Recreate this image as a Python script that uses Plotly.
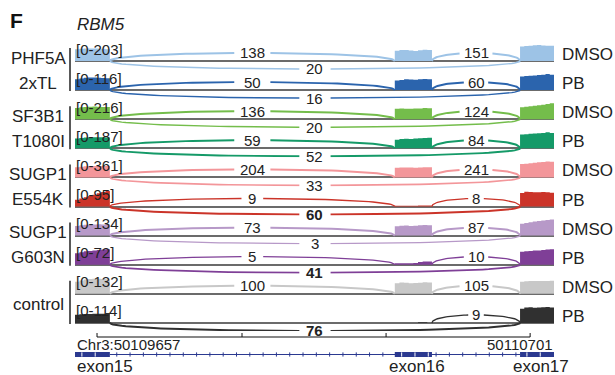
import numpy as np
import plotly.graph_objects as go

# ---------------- data ----------------
gene = "RBM5"
chrom = "Chr3"
region = (50109657, 50110701)
exon_names = ["exon15", "exon16", "exon17"]
exons = [(50109657, 50109733), (50110354, 50110435), (50110627, 50110701)]
axis_ticks = [50109705, 50110021, 50110335, 50110649]

treatments = ["DMSO", "PB", "DMSO", "PB", "DMSO", "PB", "DMSO", "PB", "DMSO", "PB"]
groups = [["PHF5A", "2xTL"], ["SF3B1", "T1080I"], ["SUGP1", "E554K"], ["SUGP1", "G603N"], ["control"]]
group_rows = [(0, 1), (2, 3), (4, 5), (6, 7), (8, 9)]
colors = ["#9dc3e6", "#2b64ad", "#74bd4b", "#159a68", "#f3969a",
          "#cb3429", "#b799c8", "#7f3f97", "#c8c8c8", "#303030"]
scale_max = [203, 116, 216, 187, 361, 95, 134, 72, 132, 114]

# junction read counts (None = junction not shown)
junc_15_16 = [138, 50, 136, 59, 204, 9, 73, 5, 100, None]
junc_16_17 = [151, 60, 124, 84, 241, 8, 87, 10, 105, 9]
junc_15_17 = [20, 16, 20, 52, 33, 60, 3, 41, None, 76]

# exon read coverage, 8 bins per exon
cov_exon15 = [
    [150, 155, 158, 160, 160, 158, 155, 150],
    [78, 85, 90, 92, 92, 90, 88, 86],
    [150, 160, 165, 168, 170, 168, 166, 165],
    [115, 120, 125, 128, 130, 130, 128, 126],
    [230, 240, 250, 255, 258, 260, 258, 255],
    [40, 48, 55, 62, 70, 78, 86, 92],
    [80, 86, 90, 92, 92, 95, 94, 92],
    [52, 56, 60, 62, 64, 66, 68, 70],
    [100, 110, 118, 122, 125, 124, 122, 120],
    [58, 62, 64, 64, 65, 66, 66, 70],
]
cov_exon16 = [
    [130, 138, 140, 132, 128, 135, 142, 140],
    [70, 74, 78, 76, 75, 78, 80, 78],
    [140, 146, 142, 140, 144, 146, 150, 148],
    [100, 108, 112, 110, 115, 118, 120, 122],
    [215, 222, 225, 222, 220, 225, 230, 228],
    [4, 5, 5, 5, 5, 6, 6, 6],
    [78, 82, 84, 80, 82, 86, 88, 86],
    [6, 6, 6, 6, 8, 12, 14, 14],
    [88, 94, 92, 88, 90, 92, 95, 94],
    [0, 0, 0, 0, 0, 4, 4, 0],
]
cov_exon17 = [
    [185, 190, 195, 200, 203, 198, 195, 192],
    [98, 102, 104, 106, 110, 112, 116, 112],
    [160, 168, 175, 180, 188, 195, 205, 216],
    [160, 165, 170, 172, 175, 180, 187, 180],
    [300, 310, 320, 330, 340, 350, 361, 355],
    [80, 88, 86, 84, 85, 86, 84, 82],
    [100, 106, 112, 118, 122, 126, 130, 134],
    [58, 60, 62, 64, 64, 66, 68, 70],
    [100, 104, 106, 106, 105, 106, 106, 108],
    [100, 110, 112, 108, 110, 112, 114, 110],
]

# ---------------- layout constants (pixels) ----------------
W, H = 615, 375
X0, X1 = 75, 554            # horizontal extent of the tracks
BASE0, ROW = 61, 29.1       # first baseline and track pitch
COV_PX = 16                 # pixel height of the track maximum
ABOVE, BELOW = 20, 9        # track extent around its baseline
ARC_PX = 8                  # height of the junction arcs
AXIS_Y, GENE_Y = 337, 354.5
FONT = "Liberation Sans, Arial, sans-serif"
TXT = "#222222"

bp_per_px = (region[1] - region[0]) / (X1 - X0)


def py(px):
    return 1 - px / H


def px_x(px):
    return px / W


fig = go.Figure()
layout = dict(
    width=W, height=H, margin=dict(l=0, r=0, t=0, b=0),
    plot_bgcolor="white", paper_bgcolor="white", showlegend=False,
    xaxis=dict(domain=[X0 / W, X1 / W], range=list(region), visible=False, fixedrange=True),
)
annotations = []
shapes = []

t = np.linspace(0, 1, 60)


def arc(x1, x2, peak):
    # cubic Bezier with control points above both ends
    xs = x1 + (x2 - x1) * (3 * t ** 2 - 2 * t ** 3)
    ys = 3 * t * (1 - t) * (peak / 0.75)
    return xs, ys


for i in range(10):
    yb = BASE0 + i * ROW
    M = scale_max[i]
    yname = "yaxis" if i == 0 else f"yaxis{i + 1}"
    yref = "y" if i == 0 else f"y{i + 1}"
    layout[yname] = dict(
        domain=[py(yb + BELOW), py(yb - ABOVE)],
        range=[-BELOW / COV_PX * M, ABOVE / COV_PX * M],
        anchor="x", showgrid=False, showticklabels=False, ticks="", showline=False,
        zeroline=True, zerolinecolor="#6b6b6b", zerolinewidth=1.6, fixedrange=True,
    )
    col = colors[i]

    # coverage
    xs, ys = [], []
    for (s, e), vals in zip(exons, [cov_exon15[i], cov_exon16[i], cov_exon17[i]]):
        edges = np.linspace(s, e, len(vals) + 1)
        xs.append(s); ys.append(0)
        for k, v in enumerate(vals):
            xs.append(edges[k]); ys.append(v)
        xs += [e, e]; ys += [vals[-1], 0]
    fig.add_trace(go.Scatter(x=xs, y=ys, mode="lines", line=dict(width=0, shape="hv", color=col),
                             fill="tozeroy", fillcolor=col, yaxis=yref, hoverinfo="skip"))

    # junctions
    peak = ARC_PX / COV_PX * M
    juncs = [
        (exons[0][1], exons[1][0], junc_15_16[i], 1),
        (exons[1][1], exons[2][0], junc_16_17[i], 1),
        (exons[0][1], exons[2][0], junc_15_17[i], -1),
    ]
    skip_bold = junc_15_17[i] is not None and junc_15_17[i] > max(
        [c for c in (junc_15_16[i], junc_16_17[i]) if c is not None])
    for x1, x2, cnt, sgn in juncs:
        if cnt is None:
            continue
        ax, ay = arc(x1, x2, sgn * peak)
        label = str(cnt)
        gap = (len(label) * 8.4 / 2 + 3.5) * bp_per_px
        mid = (x1 + x2) / 2
        ay = ay.astype(object)
        ay[np.abs(ax - mid) < gap] = None
        width = 1.2 + 0.8 * min(cnt / 60, 1)
        fig.add_trace(go.Scatter(x=ax, y=ay, mode="lines", line=dict(color=col, width=width),
                                 yaxis=yref, hoverinfo="skip", connectgaps=False))
        bold = sgn < 0 and skip_bold
        annotations.append(dict(
            x=mid, y=sgn * peak, xref="x", yref=yref, showarrow=False,
            text=f"<b>{label}</b>" if bold else label,
            font=dict(family=FONT, size=15, color=TXT), xanchor="center", yanchor="middle"))

    # scale label and condition label
    annotations.append(dict(x=px_x(X0 - 1), y=py(yb - 12), xref="paper", yref="paper", showarrow=False,
                            text=f"[0-{M}]", font=dict(family=FONT, size=15, color=TXT),
                            xanchor="left", yanchor="middle"))
    annotations.append(dict(x=px_x(X1 + 6), y=py(yb - 6.5), xref="paper", yref="paper", showarrow=False,
                            text=treatments[i], font=dict(family=FONT, size=17, color=TXT),
                            xanchor="left", yanchor="middle"))

# group labels with brackets
for names, (r0, r1) in zip(groups, group_rows):
    yb0 = BASE0 + r0 * ROW
    yb1 = BASE0 + r1 * ROW
    shapes.append(dict(type="line", xref="paper", yref="paper", x0=px_x(70), x1=px_x(70),
                       y0=py(yb0 - 13), y1=py(yb1 + 1), line=dict(color="#222222", width=1.5)))
    if len(names) == 2:
        ys_lab = [yb0 - 3, yb1 - 7]
    else:
        ys_lab = [(yb0 + yb1) / 2 - 4]
    for nm, yl in zip(names, ys_lab):
        annotations.append(dict(x=px_x(38), y=py(yl), xref="paper", yref="paper", showarrow=False,
                                text=nm, font=dict(family=FONT, size=17, color=TXT),
                                xanchor="center", yanchor="middle"))

# bottom panel: coordinate bracket and gene model (y in pixel units)
layout["yaxis11"] = dict(domain=[py(362), py(331)], range=[362, 331], anchor="x",
                         visible=False, fixedrange=True)
fig.add_trace(go.Scatter(x=[axis_ticks[0], axis_ticks[-1]], y=[AXIS_Y, AXIS_Y], mode="lines",
                         line=dict(color="#111111", width=1.2), yaxis="y11", hoverinfo="skip"))
tx, ty = [], []
for tk in axis_ticks:
    tx += [tk, tk, None]; ty += [AXIS_Y, AXIS_Y - 4, None]
fig.add_trace(go.Scatter(x=tx, y=ty, mode="lines", line=dict(color="#111111", width=1),
                         yaxis="y11", hoverinfo="skip"))

NAVY = "#2b3990"
fig.add_trace(go.Scatter(x=[exons[0][1], exons[2][0]], y=[GENE_Y, GENE_Y], mode="lines",
                         line=dict(color=NAVY, width=1), yaxis="y11", hoverinfo="skip"))
strand_x = np.arange(exons[0][1] + 15, exons[2][0], 29.0)
strand_x = [s for s in strand_x if not (exons[1][0] - 5 < s < exons[1][1] + 5)]
fig.add_trace(go.Scatter(x=strand_x, y=[GENE_Y] * len(strand_x), mode="markers",
                         marker=dict(symbol="line-ns", size=3, line=dict(color=NAVY, width=1)),
                         yaxis="y11", hoverinfo="skip"))
for s, e in exons:
    fig.add_trace(go.Scatter(x=[s, e], y=[GENE_Y, GENE_Y], mode="lines",
                             line=dict(color=NAVY, width=5), yaxis="y11", hoverinfo="skip"))
    ex_marks = list(np.arange(s + 15, e - 5, 29.0))
    fig.add_trace(go.Scatter(x=ex_marks, y=[GENE_Y] * len(ex_marks), mode="markers",
                             marker=dict(symbol="line-ns", size=3, line=dict(color="white", width=1)),
                             yaxis="y11", hoverinfo="skip"))

annotations.append(dict(x=px_x(X0), y=py(344), xref="paper", yref="paper", showarrow=False,
                        text=f"{chrom}:{region[0]}", font=dict(family=FONT, size=15, color=TXT),
                        xanchor="left", yanchor="middle"))
annotations.append(dict(x=px_x(X1 + 1), y=py(344), xref="paper", yref="paper", showarrow=False,
                        text=f"{region[1]}", font=dict(family=FONT, size=15, color=TXT),
                        xanchor="right", yanchor="middle"))
for k, ((s, e), nm) in enumerate(zip(exons, exon_names)):
    common = dict(y=0, xref="x", yref="paper", showarrow=False, text=nm, yshift=-3,
                  font=dict(family=FONT, size=17, color=TXT), yanchor="bottom")
    if k == 0:
        annotations.append(dict(x=s, xanchor="left", **common))
    else:
        annotations.append(dict(x=(s + e) / 2, xanchor="center", xshift=4, **common))

# panel letter and gene name
annotations.append(dict(x=px_x(8), y=py(20.5), xref="paper", yref="paper", showarrow=False,
                        text="<b>F</b>", font=dict(family=FONT, size=21, color="#111111"),
                        xanchor="left", yanchor="middle"))
annotations.append(dict(x=px_x(75), y=py(25), xref="paper", yref="paper", showarrow=False,
                        text=f"<i>{gene}</i>", font=dict(family=FONT, size=17, color=TXT),
                        xanchor="left", yanchor="middle"))

layout["annotations"] = annotations
layout["shapes"] = shapes
fig.update_layout(**layout)
fig.write_html("out.html")
